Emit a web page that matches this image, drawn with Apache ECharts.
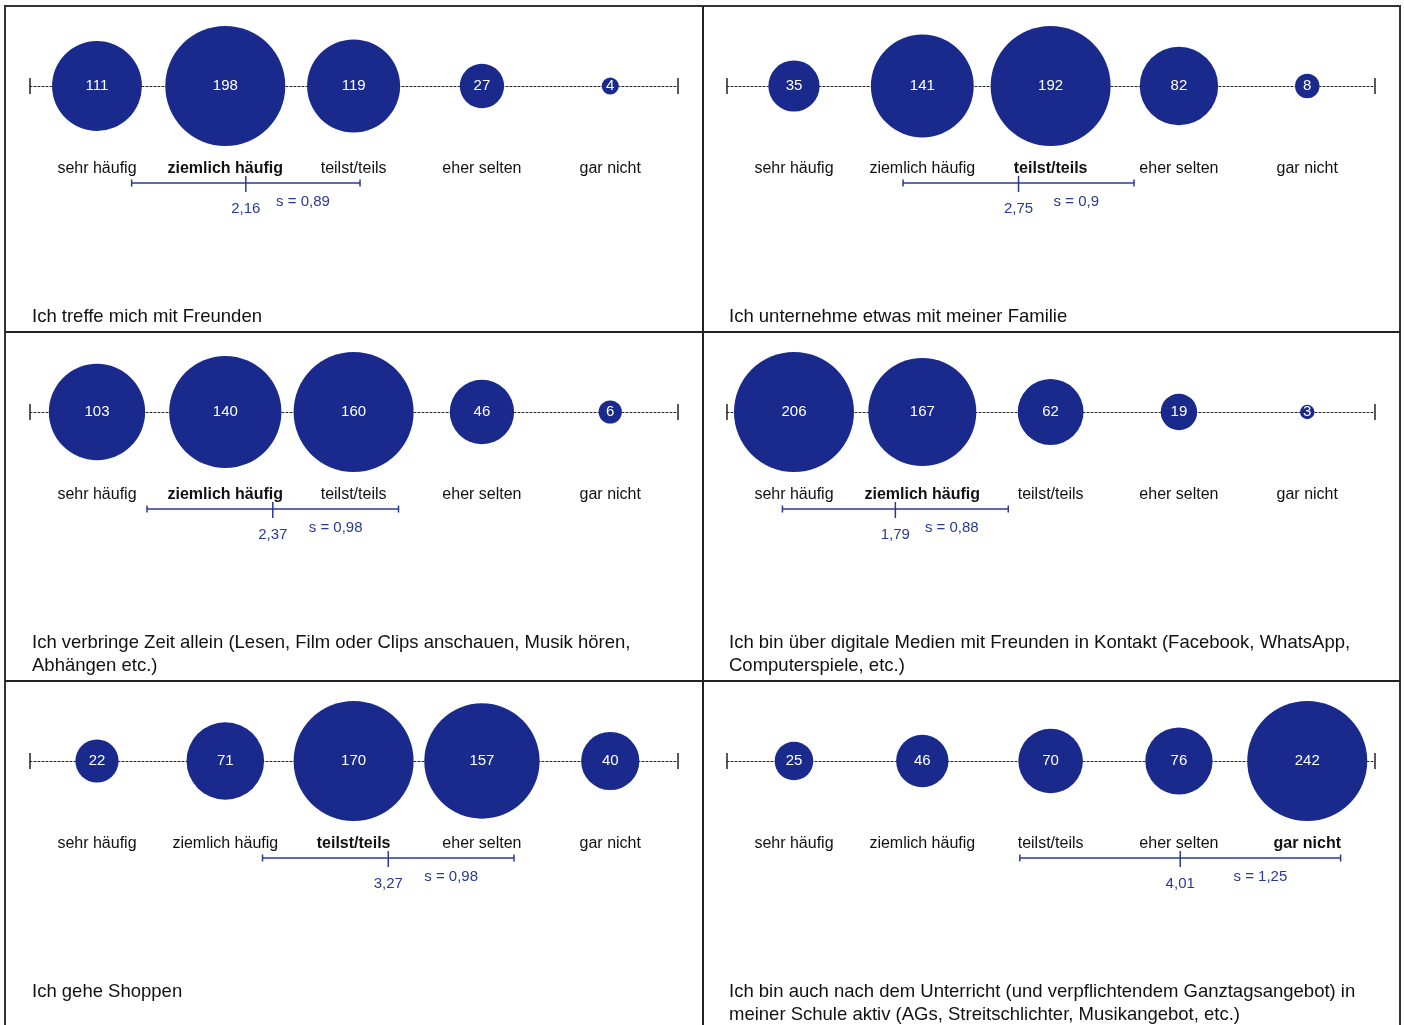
<!DOCTYPE html>
<html>
<head>
<meta charset="utf-8">
<script src="https://cdn.jsdelivr.net/npm/echarts@6/dist/echarts.min.js"></script>
<style>
  html, body { margin: 0; padding: 0; background: #fff; }
  #main { width: 1404px; height: 1025px; }
</style>
</head>
<body>
<div id="main"></div>
<script>
'use strict';

// answer scale
var categories = ['sehr häufig', 'ziemlich häufig', 'teilst/teils', 'eher selten', 'gar nicht'];

var titles = [
  'Ich treffe mich mit Freunden',
  'Ich unternehme etwas mit meiner Familie',
  'Ich verbringe Zeit allein (Lesen, Film oder Clips anschauen, Musik hören,\nAbhängen etc.)',
  'Ich bin über digitale Medien mit Freunden in Kontakt (Facebook, WhatsApp,\nComputerspiele, etc.)',
  'Ich gehe Shoppen',
  'Ich bin auch nach dem Unterricht (und verpflichtendem Ganztagsangebot) in\nmeiner Schule aktiv (AGs, Streitschlichter, Musikangebot, etc.)'
];

var counts = [
  [111, 198, 119, 27, 4],
  [35, 141, 192, 82, 8],
  [103, 140, 160, 46, 6],
  [206, 167, 62, 19, 3],
  [22, 71, 170, 157, 40],
  [25, 46, 70, 76, 242]
];

var means = [2.16, 2.75, 2.37, 1.79, 3.27, 4.01];
var sds = [0.89, 0.9, 0.98, 0.88, 0.98, 1.25];
// category shown in bold (median)
var boldIdx = [1, 2, 1, 1, 2, 4];

var scaleMin = 0.478, scaleMax = 5.528;

var blue = '#19298c';
var lineBlue = '#2a3896';
var font = '"Liberation Sans", Arial, Helvetica, sans-serif';

var colLeft = [30, 727];
var rowTop = [6, 332, 681];

function de(v) { return String(v).replace('.', ','); }

var grids = [], xAxes = [], yAxes = [], series = [], titleList = [];

counts.forEach(function (vals, i) {
  var c = i % 2, r = Math.floor(i / 2);
  var top = rowTop[r];
  var maxV = Math.max.apply(null, vals);
  var bi = boldIdx[i];

  grids.push({ left: colLeft[c], width: 648, top: top + 20, height: 60 });

  xAxes.push({
    gridIndex: i, type: 'value', min: scaleMin, max: scaleMax,
    axisLine: { show: true, lineStyle: { color: '#222', width: 1, type: [2, 2] } },
    axisTick: { show: false },
    splitLine: { show: false },
    axisLabel: {
      customValues: [1, 2, 3, 4, 5],
      margin: 75,
      fontSize: 16, color: '#111', fontFamily: font,
      formatter: function (v) {
        var k = Math.round(v) - 1;
        return k === bi ? '{b|' + categories[k] + '}' : categories[k];
      },
      rich: { b: { fontWeight: 'bold', fontSize: 16, color: '#111', fontFamily: font } }
    }
  });
  yAxes.push({ gridIndex: i, type: 'value', min: 0, max: 1, show: false });

  // end caps of the scale
  series.push({
    type: 'custom', xAxisIndex: i, yAxisIndex: i, clip: false, silent: true,
    data: [[scaleMin], [scaleMax]],
    renderItem: function (params, api) {
      var p = api.coord([api.value(0), 0]);
      return { type: 'line', shape: { x1: p[0], y1: p[1] - 8, x2: p[0], y2: p[1] + 8 },
        style: { stroke: '#222', lineWidth: 1.5 } };
    }
  });

  // bubbles
  series.push({
    type: 'scatter', xAxisIndex: i, yAxisIndex: i, silent: true,
    data: vals.map(function (v, k) { return [k + 1, 0, v]; }),
    symbolSize: function (d) { return 120 * Math.sqrt(d[2] / maxV); },
    itemStyle: { color: blue, opacity: 1 },
    label: { show: true, position: 'inside', color: '#fff', fontSize: 15, fontFamily: font,
      formatter: function (p) { return p.value[2]; } },
    z: 3
  });

  // mean +- s
  series.push({
    type: 'custom', xAxisIndex: i, yAxisIndex: i, clip: false, silent: true,
    data: [[means[i], sds[i]]],
    renderItem: function (params, api) {
      var m = api.value(0), s = api.value(1);
      var pc = api.coord([m, 0]), pl = api.coord([m - s, 0]), pr = api.coord([m + s, 0]);
      var ps = api.coord([m + s / 2, 0]);
      var y = pc[1] + 97;
      var st = { stroke: lineBlue, lineWidth: 1.5 };
      return {
        type: 'group',
        children: [
          { type: 'line', shape: { x1: pl[0], y1: y, x2: pr[0], y2: y }, style: st },
          { type: 'line', shape: { x1: pl[0], y1: y - 3.5, x2: pl[0], y2: y + 3.5 }, style: st },
          { type: 'line', shape: { x1: pr[0], y1: y - 3.5, x2: pr[0], y2: y + 3.5 }, style: st },
          { type: 'line', shape: { x1: pc[0], y1: y - 7, x2: pc[0], y2: y + 9 }, style: st },
          { type: 'text', style: { x: pc[0], y: pc[1] + 123, text: de(m), fill: lineBlue,
            font: '15px ' + font, align: 'center', verticalAlign: 'middle' } },
          { type: 'text', style: { x: ps[0], y: pc[1] + 116, text: 's = ' + de(s), fill: lineBlue,
            font: '15px ' + font, align: 'center', verticalAlign: 'middle' } }
        ]
      };
    }
  });

  titleList.push({
    text: titles[i], left: colLeft[c] + 2, top: top + 299, padding: 0,
    textStyle: { fontSize: 18.5, fontWeight: 'normal', color: '#111', lineHeight: 23, fontFamily: font }
  });
});

var myChart = echarts.init(document.getElementById('main'));
myChart.setOption({
  animation: false,
  textStyle: { fontFamily: font },
  title: titleList,
  grid: grids,
  xAxis: xAxes,
  yAxis: yAxes,
  series: series,
  graphic: [
    { type: 'rect', shape: { x: 5, y: 6, width: 1395, height: 1030 },
      style: { fill: 'none', stroke: '#333', lineWidth: 2 } },
    { type: 'line', shape: { x1: 703, y1: 6, x2: 703, y2: 1030 }, style: { stroke: '#222', lineWidth: 2 } },
    { type: 'line', shape: { x1: 5, y1: 332, x2: 1400, y2: 332 }, style: { stroke: '#222', lineWidth: 2 } },
    { type: 'line', shape: { x1: 5, y1: 681, x2: 1400, y2: 681 }, style: { stroke: '#222', lineWidth: 2 } }
  ]
});
</script>
</body>
</html>
